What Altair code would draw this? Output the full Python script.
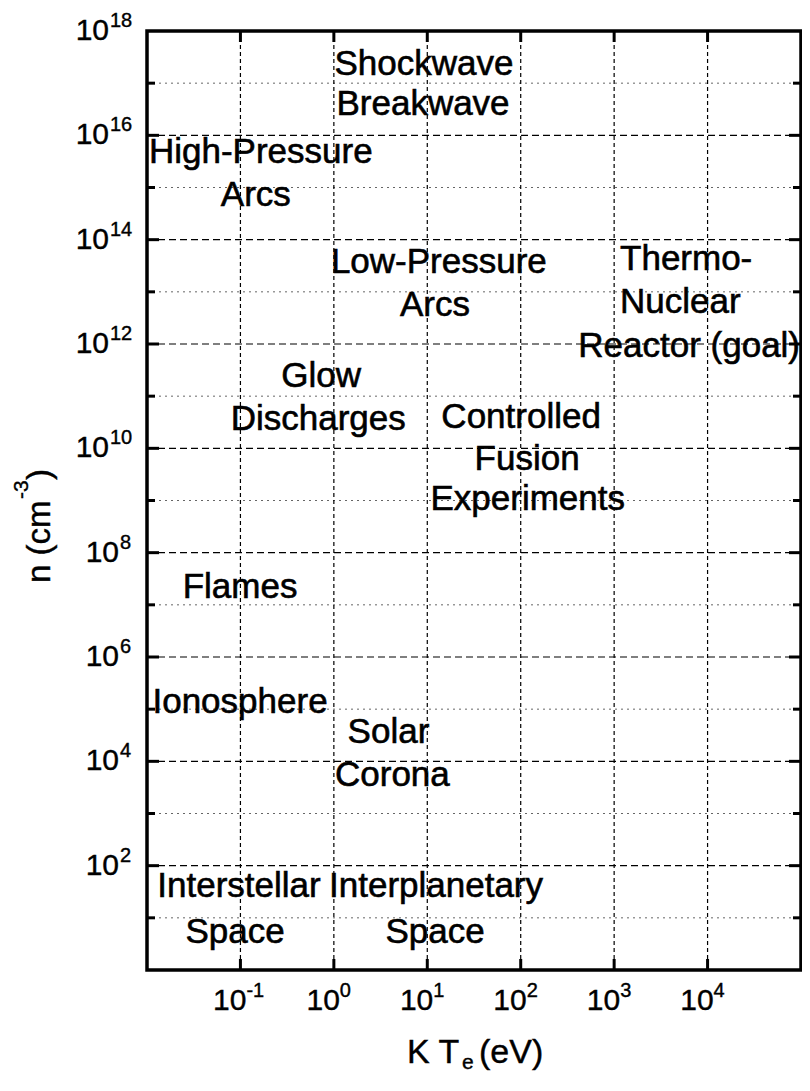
import altair as alt
import pandas as pd

FONT = "Liberation Sans"

# ---- annotation lines: text, electron temperature KTe (eV), density n (cm^-3)
label_text = ["Shockwave", "Breakwave", "High-Pressure", "Arcs",
              "Low-Pressure", "Arcs", "Thermo-", "Nuclear", "Reactor (goal)",
              "Glow", "Discharges", "Controlled", "Fusion", "Experiments",
              "Flames", "Ionosphere", "Solar", "Corona",
              "Interstellar", "Interplanetary", "Space", "Space"]
label_kte = [9.2, 9.0, 0.165, 0.146,
             13.3, 12.1, 5900, 5100, 6350,
             0.73, 0.68, 101, 117, 119,
             0.099, 0.099, 3.84, 4.23,
             0.0966, 12.4, 0.0877, 12.1]
label_n = [1.45e17, 2.5e16, 3.0e15, 4.5e14,
           2.27e13, 3.4e12, 2.6e13, 3.9e12, 5.6e11,
           1.5e11, 2.27e10, 2.4e10, 3.9e9, 6.7e8,
           1.34e7, 8.5e4, 2.27e4, 3420,
           24.8, 24.8, 3.27, 3.27]

# ---- axes
x_domain = [1e-2, 1e5]
y_domain = [1e0, 1e18]
x_tick_exp = [-1, 0, 1, 2, 3, 4]
y_label_exp = [2, 4, 6, 8, 10, 12, 14, 16, 18]
y_major_exp = [2, 4, 6, 8, 10, 12, 14, 16]
y_minor_exp = [1, 3, 5, 7, 9, 11, 13, 15, 17]

W, H = 654, 939

xs = alt.Scale(type="log", domain=x_domain, nice=False)
ys = alt.Scale(type="log", domain=y_domain, nice=False)

ann = pd.DataFrame({"t": label_text, "x": label_kte, "y": label_n})
xt = pd.DataFrame({"v": [10.0 ** e for e in x_tick_exp],
                   "e": [str(e) for e in x_tick_exp]})
yl = pd.DataFrame({"v": [10.0 ** e for e in y_label_exp],
                   "e": [str(e) for e in y_label_exp]})
yl1 = yl[yl["e"].str.len() == 1]
yl2 = yl[yl["e"].str.len() == 2]
ymaj = pd.DataFrame({"v": [10.0 ** e for e in y_major_exp]})
ymin = pd.DataFrame({"v": [10.0 ** e for e in y_minor_exp]})
one = pd.DataFrame({"a": [0]})

X = alt.X("v:Q", scale=xs, axis=None)
Y = alt.Y("v:Q", scale=ys, axis=None)

# grid lines
vgrid = alt.Chart(xt).mark_rule(color="black", strokeWidth=1.2, strokeDash=[4, 3]).encode(
    x=X, y=alt.value(0), y2=alt.value(H))
hgrid = alt.Chart(ymaj).mark_rule(color="black", strokeWidth=1.2, strokeDash=[7, 4]).encode(
    y=Y, x=alt.value(0), x2=alt.value(W))
hminor = alt.Chart(ymin).mark_rule(color="#666666", strokeWidth=1, strokeDash=[2, 4]).encode(
    y=Y, x=alt.value(0), x2=alt.value(W))

# inward ticks
tk = dict(color="black", strokeWidth=3)
lt_maj = alt.Chart(ymaj).mark_rule(**tk).encode(y=Y, x=alt.value(0), x2=alt.value(12))
lt_min = alt.Chart(ymin).mark_rule(**tk).encode(y=Y, x=alt.value(0), x2=alt.value(8))
rt_maj = alt.Chart(ymaj).mark_rule(**tk).encode(y=Y, x=alt.value(W), x2=alt.value(W - 12))
rt_min = alt.Chart(ymin).mark_rule(**tk).encode(y=Y, x=alt.value(W), x2=alt.value(W - 8))
bt = alt.Chart(xt).mark_rule(**tk).encode(x=X, y=alt.value(H), y2=alt.value(H - 11))
tt = alt.Chart(xt).mark_rule(**tk).encode(x=X, y=alt.value(0), y2=alt.value(11))

lab = dict(font=FONT, color="black", stroke="black", strokeWidth=0.4)

# x tick labels
x10 = alt.Chart(xt).mark_text(fontSize=30, align="right", baseline="middle",
                              dx=6, text="10", **lab).encode(x=X, y=alt.value(H + 31))
xex = alt.Chart(xt).mark_text(fontSize=20, align="left", baseline="middle",
                              dx=6, **lab).encode(x=X, y=alt.value(H + 21), text="e:N")

# y tick labels
y10a = alt.Chart(yl2).mark_text(fontSize=30, align="right", baseline="middle",
                                text="10", **lab).encode(y=Y, x=alt.value(-38))
yexa = alt.Chart(yl2).mark_text(fontSize=20, align="left", baseline="middle",
                                dy=-10, **lab).encode(y=Y, x=alt.value(-37), text="e:N")
y10b = alt.Chart(yl1).mark_text(fontSize=30, align="right", baseline="middle",
                                text="10", **lab).encode(y=Y, x=alt.value(-28))
yexb = alt.Chart(yl1).mark_text(fontSize=20, align="left", baseline="middle",
                                dy=-10, **lab).encode(y=Y, x=alt.value(-27), text="e:N")

# axis titles
def txt(s, size, x, y, align="left", angle=0):
    kw = dict(fontSize=size, align=align, baseline="alphabetic", text=s, **lab)
    if angle:
        kw["angle"] = angle
    return alt.Chart(one).mark_text(**kw).encode(x=alt.value(x), y=alt.value(y))

xtitle = (txt("K T", 34, 260, H + 93) + txt("e", 21, 315, H + 99) + txt("(eV)", 34, 332, H + 93))
ytitle = (txt("n (cm", 33, -97, 552, angle=270) + txt("-3", 21, -119, 468, angle=270)
          + txt(")", 33, -97, 449, angle=270))

# annotations
annot = alt.Chart(ann).mark_text(font=FONT, fontSize=35, align="center",
                                 baseline="alphabetic", color="black",
                                 stroke="black", strokeWidth=0.6).encode(
    x=alt.X("x:Q", scale=xs, axis=None), y=alt.Y("y:Q", scale=ys, axis=None), text="t:N")

chart = alt.layer(
    hminor, hgrid, vgrid,
    lt_maj, lt_min, rt_maj, rt_min, bt, tt,
    x10, xex, y10a, yexa, y10b, yexb,
    xtitle, ytitle, annot,
).properties(
    width=W, height=H,
    autosize=alt.AutoSizeParams(type="none"),
    padding={"left": 139, "top": 23, "right": 1, "bottom": 106},
    background="white",
).configure_view(stroke="black", strokeWidth=3.5)

chart.save("out.html", embed_options={"renderer": "svg", "actions": False})
